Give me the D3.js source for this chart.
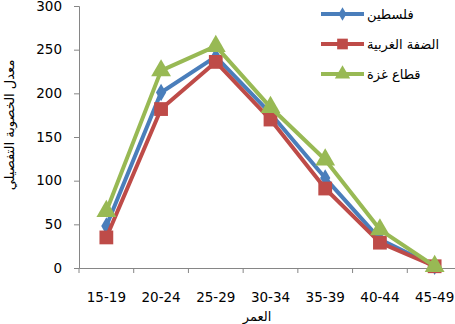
<!DOCTYPE html>
<html>
<head>
<meta charset="utf-8">
<script src="https://cdn.jsdelivr.net/npm/d3@7"></script>
<style>
  html, body { margin: 0; padding: 0; background: #fff; }
  svg { display: block; }
</style>
</head>
<body>
<svg id="chart" width="455" height="324"></svg>
<script>
// Age groups on the x axis
const ageGroups = ["15-19", "20-24", "25-29", "30-34", "35-39", "40-44", "45-49"];

// Age-specific fertility rates (per 1000 women)
const palestine = [48, 201, 242, 177, 103, 33, 2];
const westBank  = [35, 182, 236, 170, 91, 29, 2];
const gaza      = [65, 226, 254, 184, 124, 44, 2];

const seriesNames = ["فلسطين", "الضفة الغربية", "قطاع غزة"];
const yTicks = [0, 50, 100, 150, 200, 250, 300];

const svg = d3.select("#chart");
const axisColor = "#868686";

const x = d3.scaleBand().domain(ageGroups).range([79, 462]).padding(0);
const y = d3.scaleLinear().domain([0, 300]).range([268, 6]);

// Y axis
const yAxis = svg.append("g")
  .attr("transform", "translate(79,0)")
  .call(d3.axisLeft(y).tickValues(yTicks).tickSize(5).tickPadding(12));
yAxis.select(".domain").attr("stroke", axisColor).attr("stroke-width", 1);
yAxis.selectAll(".tick line").attr("stroke", axisColor);
yAxis.selectAll(".tick text")
  .attr("font-family", "DejaVu Sans, sans-serif")
  .attr("font-size", 13.5)
  .attr("fill", "#000");

// X axis: labels centred in bands, ticks on band edges
const xAxis = svg.append("g")
  .attr("transform", "translate(0,268)")
  .call(d3.axisBottom(x).tickSize(0).tickPadding(24).tickSizeOuter(0));
xAxis.select(".domain").attr("stroke", axisColor).attr("stroke-width", 1);
xAxis.selectAll(".tick text")
  .attr("font-family", "DejaVu Sans, sans-serif")
  .attr("font-size", 13.5)
  .attr("fill", "#000");
const edges = ageGroups.map(d => x(d)).concat([x.range()[1]]);
xAxis.selectAll(".edge")
  .data(edges)
  .enter().append("line")
  .attr("class", "edge")
  .attr("x1", d => d).attr("x2", d => d)
  .attr("y1", 0).attr("y2", 5)
  .attr("stroke", axisColor);

// Axis titles
svg.append("text")
  .attr("transform", `translate(14,${(y(300) + y(0)) / 2 - 12}) rotate(-90)`)
  .attr("text-anchor", "middle")
  .attr("font-family", "DejaVu Sans, sans-serif")
  .attr("font-size", 13)
  .attr("fill", "#000")
  .text("معدل الخصوبة التفصيلي");

svg.append("text")
  .attr("x", 257).attr("y", 321)
  .attr("text-anchor", "middle")
  .attr("font-family", "DejaVu Sans, sans-serif")
  .attr("font-size", 13)
  .attr("fill", "#000")
  .text("العمر");

const series = [
  { name: seriesNames[0], values: palestine, color: "#4a7ebb", symbol: d3.symbolDiamond, size: 90 },
  { name: seriesNames[1], values: westBank,  color: "#be4b48", symbol: d3.symbolSquare,  size: 190 },
  { name: seriesNames[2], values: gaza,      color: "#98b954", symbol: d3.symbolTriangle, size: 170 }
];

const line = d3.line()
  .x((d, i) => x(ageGroups[i]) + x.bandwidth() / 2)
  .y(d => y(d));

series.forEach(s => {
  const g = svg.append("g");
  g.append("path")
    .datum(s.values)
    .attr("d", line)
    .attr("fill", "none")
    .attr("stroke", s.color)
    .attr("stroke-width", 4)
    .attr("stroke-linejoin", "round");
  g.selectAll("path.marker")
    .data(s.values)
    .enter().append("path")
    .attr("class", "marker")
    .attr("d", d3.symbol().type(s.symbol).size(s.size))
    .attr("transform", (d, i) => `translate(${x(ageGroups[i]) + x.bandwidth() / 2},${y(d)})`)
    .attr("fill", s.color);
});

// Legend
const legend = svg.append("g");
series.forEach((s, i) => {
  const ly = 14 + i * 30;
  legend.append("line")
    .attr("x1", 321).attr("x2", 364)
    .attr("y1", ly).attr("y2", ly)
    .attr("stroke", s.color).attr("stroke-width", 4);
  legend.append("path")
    .attr("d", d3.symbol().type(s.symbol).size(s.size * 0.6))
    .attr("transform", `translate(342.5,${ly})`)
    .attr("fill", s.color);
  legend.append("text")
    .attr("x", 367).attr("y", ly + 5)
    .attr("font-family", "DejaVu Sans, sans-serif")
    .attr("font-size", 13)
    .attr("fill", "#000")
    .text(s.name);
});
</script>
</body>
</html>
